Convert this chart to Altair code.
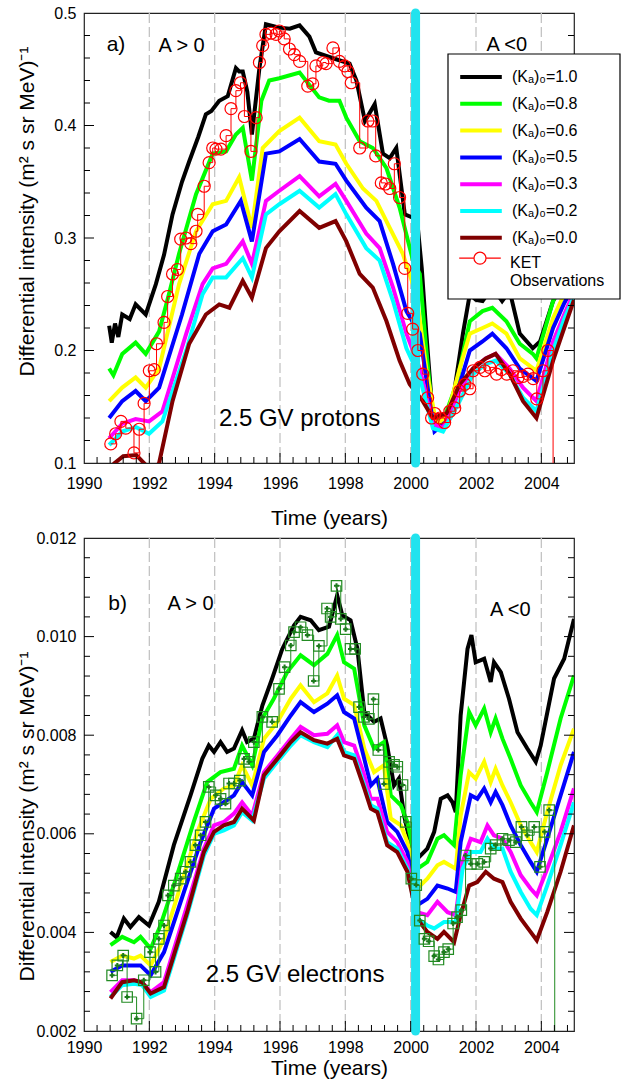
import altair as alt
import pandas as pd

FONT = "Liberation Sans"

# ---------------- labels / colours ----------------
MODEL_LABELS = ["(Kₐ)₀=1.0", "(Kₐ)₀=0.8", "(Kₐ)₀=0.6", "(Kₐ)₀=0.5",
                "(Kₐ)₀=0.3", "(Kₐ)₀=0.2", "(Kₐ)₀=0.0"]
MODEL_COLORS = ["#000000", "#00ff00", "#ffff00", "#0000ff",
                "#ff00ff", "#00ffff", "#800000"]
KET_LABEL = "KET|Observations"
Y_TITLE = "Differential intensity (m² s sr MeV)⁻¹"
X_TITLE = "Time (years)"
X_MAJOR = [1990, 1992, 1994, 1996, 1998, 2000, 2002, 2004]
X_GRID = [1992, 1994, 1996, 1998, 2000, 2002, 2004]
Y_MAJOR_P = [0.1, 0.2, 0.3, 0.4, 0.5]
Y_MAJOR_E = [0.002, 0.004, 0.006, 0.008, 0.010, 0.012]
POLARITY_CHANGE = [2000.15]

# ---------------- panel a) protons ----------------
P_Y10 = [1990.77, 1990.85, 1990.95, 1991.05, 1991.17, 1991.4, 1991.58, 1991.89, 1992.2, 1992.45,
         1992.71, 1993.0, 1993.22, 1993.5, 1993.73, 1993.9, 1994.14, 1994.4, 1994.65, 1994.75,
         1994.86, 1995.0, 1995.14, 1995.25, 1995.37, 1995.57, 1995.98, 1996.3, 1996.6, 1996.9,
         1997.1, 1997.6, 1998.13, 1998.34, 1998.6, 1998.9, 1999.15, 1999.36, 1999.56, 1999.82,
         2000.07, 2000.22, 2000.34, 2000.48, 2000.68, 2000.99, 2001.29, 2001.6, 2001.81, 2002.0,
         2002.2, 2002.5, 2002.8, 2003.03, 2003.34, 2003.74, 2003.96, 2004.36, 2004.7, 2005.0]
P_V10 = [0.222, 0.207, 0.224, 0.212, 0.232, 0.228, 0.241, 0.232, 0.259, 0.285,
         0.321, 0.35, 0.368, 0.39, 0.41, 0.413, 0.422, 0.426, 0.451, 0.448,
         0.448, 0.43, 0.392, 0.42, 0.451, 0.490, 0.487, 0.486, 0.489, 0.479,
         0.465, 0.46, 0.455, 0.44, 0.404, 0.419, 0.375, 0.371, 0.38, 0.321,
         0.318, 0.309, 0.273, 0.215, 0.14, 0.135, 0.155, 0.215, 0.25, 0.245,
         0.244, 0.256, 0.244, 0.253, 0.215, 0.202, 0.208, 0.244, 0.262, 0.28]

P_Y08 = [1990.77, 1990.9, 1991.17, 1991.58, 1991.89, 1992.3, 1992.6, 1992.91, 1993.43, 1993.94,
         1994.35, 1994.65, 1994.86, 1995.14, 1995.43, 1995.67, 1995.98, 1996.6, 1997.2, 1997.5,
         1997.82, 1998.03, 1998.44, 1998.84, 1999.26, 1999.66, 2000.07, 2000.28, 2000.48, 2000.68,
         2000.99, 2001.4, 2001.81, 2002.2, 2002.5, 2002.93, 2003.34, 2003.74, 2003.85, 2004.36,
         2004.7, 2005.0]
P_V08 = [0.184, 0.178, 0.197, 0.207, 0.197, 0.217, 0.25, 0.286, 0.339, 0.375,
         0.377, 0.392, 0.398, 0.351, 0.422, 0.44, 0.442, 0.447, 0.425, 0.422,
         0.422, 0.407, 0.386, 0.380, 0.362, 0.327, 0.28, 0.268, 0.20, 0.14,
         0.137, 0.17, 0.226, 0.235, 0.238, 0.226, 0.206, 0.197, 0.193, 0.244,
         0.262, 0.272]

P_Y06 = [1990.77, 1991.17, 1991.58, 1991.89, 1992.3, 1992.91, 1993.43, 1993.94, 1994.35, 1994.75,
         1995.14, 1995.47, 1995.98, 1996.6, 1997.2, 1997.7, 1998.03, 1998.54, 1998.95, 1999.36,
         1999.76, 2000.17, 2000.48, 2000.78, 2001.1, 2001.5, 2001.81, 2002.2, 2002.5, 2002.93,
         2003.34, 2003.85, 2004.36, 2004.7, 2005.0]
P_V06 = [0.155, 0.167, 0.176, 0.167, 0.184, 0.259, 0.306, 0.33, 0.333, 0.354,
         0.309, 0.38, 0.395, 0.407, 0.386, 0.383, 0.366, 0.344, 0.333, 0.309,
         0.286, 0.25, 0.184, 0.135, 0.14, 0.184, 0.215, 0.22, 0.224, 0.215,
         0.193, 0.182, 0.229, 0.25, 0.265]

P_Y05 = [1990.77, 1991.17, 1991.58, 1991.89, 1992.3, 1993.0, 1993.53, 1993.94, 1994.35, 1994.8,
         1995.14, 1995.57, 1995.98, 1996.6, 1997.2, 1997.7, 1998.03, 1998.64, 1999.05, 1999.46,
         1999.87, 2000.28, 2000.58, 2000.73, 2001.1, 2001.5, 2001.81, 2002.2, 2002.5, 2002.93,
         2003.34, 2003.85, 2004.36, 2004.7, 2005.0]
P_V05 = [0.14, 0.155, 0.164, 0.155, 0.167, 0.232, 0.286, 0.306, 0.312, 0.333,
         0.297, 0.375, 0.377, 0.388, 0.368, 0.366, 0.351, 0.327, 0.315, 0.277,
         0.235, 0.215, 0.155, 0.128, 0.137, 0.17, 0.20, 0.208, 0.215, 0.202,
         0.184, 0.173, 0.22, 0.242, 0.258]

P_Y03 = [1990.77, 1991.17, 1991.58, 1991.99, 1992.4, 1993.13, 1993.63, 1993.94, 1994.35, 1994.86,
         1995.14, 1995.57, 1995.98, 1996.6, 1997.2, 1997.7, 1998.03, 1998.64, 1999.05, 1999.46,
         1999.87, 2000.28, 2000.68, 2000.99, 2001.5, 2001.91, 2002.3, 2002.6, 2003.03, 2003.44,
         2003.85, 2004.36, 2004.7, 2005.0]
P_V03 = [0.122, 0.135, 0.139, 0.137, 0.146, 0.215, 0.259, 0.273, 0.277, 0.297,
         0.277, 0.333, 0.342, 0.355, 0.337, 0.348, 0.333, 0.304, 0.291, 0.256,
         0.215, 0.184, 0.135, 0.131, 0.164, 0.184, 0.193, 0.197, 0.184, 0.167,
         0.155, 0.208, 0.232, 0.252]

P_Y02 = P_Y03
P_V02 = [0.116, 0.128, 0.132, 0.126, 0.137, 0.20, 0.25, 0.265, 0.265, 0.282,
         0.265, 0.321, 0.33, 0.342, 0.327, 0.339, 0.321, 0.291, 0.28, 0.244,
         0.202, 0.176, 0.131, 0.128, 0.155, 0.179, 0.188, 0.191, 0.179, 0.158,
         0.146, 0.20, 0.228, 0.248]

P_Y00 = [1990.9, 1991.2, 1991.6, 1991.9, 1992.1, 1992.3, 1992.71, 1993.22, 1993.73, 1994.14,
         1994.45, 1994.86, 1995.14, 1995.57, 1995.98, 1996.6, 1997.2, 1997.7, 1998.03, 1998.44,
         1998.84, 1999.26, 1999.66, 1999.97, 2000.37, 2000.68, 2001.1, 2001.5, 2001.91, 2002.3,
         2002.6, 2003.03, 2003.44, 2003.85, 2004.36, 2004.7, 2005.0]
P_V00 = [0.099, 0.106, 0.107, 0.098, 0.092, 0.1, 0.155, 0.206, 0.232, 0.241,
         0.238, 0.262, 0.247, 0.291, 0.306, 0.324, 0.309, 0.315, 0.297, 0.268,
         0.256, 0.226, 0.191, 0.17, 0.155, 0.14, 0.144, 0.17, 0.184, 0.193,
         0.197, 0.179, 0.155, 0.14, 0.191, 0.22, 0.245]

KET_P_YEARS = [1990.82, 1990.97, 1991.13, 1991.28, 1991.53, 1991.69, 1991.84, 1992.0, 1992.15, 1992.22,
               1992.45, 1992.56, 1992.71, 1992.86, 1992.96, 1993.12, 1993.27, 1993.43, 1993.48, 1993.68,
               1993.83, 1993.94, 1994.04, 1994.19, 1994.35, 1994.5, 1994.65, 1994.79, 1994.91, 1995.11,
               1995.27, 1995.37, 1995.47, 1995.57, 1995.73, 1995.88, 1995.98, 1996.13, 1996.29, 1996.44,
               1996.6, 1996.85, 1997.0, 1997.1, 1997.31, 1997.41, 1997.62, 1997.82, 1997.98, 1998.08,
               1998.18, 1998.44, 1998.69, 1998.84, 1998.93, 1999.1, 1999.23, 1999.36, 1999.5, 1999.66,
               1999.82, 1999.91, 2000.06, 2000.22, 2000.37, 2000.52, 2000.64, 2000.74, 2000.9, 2001.04,
               2001.2, 2001.35, 2001.5, 2001.66, 2001.81, 2001.91, 2002.12, 2002.27, 2002.42, 2002.63,
               2002.78, 2002.94, 2003.13, 2003.29, 2003.44, 2003.59, 2003.75, 2003.86, 2004.05, 2004.2,
               2004.36]
KET_P_VALUES = [0.117, 0.126, 0.137, 0.131, 0.109, 0.13, 0.153, 0.182, 0.183, 0.206,
                0.225, 0.248, 0.268, 0.272, 0.299, 0.30, 0.295, 0.306, 0.321, 0.346,
                0.367, 0.38, 0.379, 0.379, 0.391, 0.415, 0.431, 0.438, 0.408, 0.377,
                0.407, 0.456, 0.471, 0.481, 0.482, 0.481, 0.484, 0.477, 0.468, 0.463,
                0.457, 0.435, 0.437, 0.453, 0.456, 0.455, 0.469, 0.457, 0.453, 0.448,
                0.438, 0.38, 0.404, 0.404, 0.373, 0.349, 0.348, 0.344, 0.366, 0.336,
                0.273, 0.233, 0.219, 0.20, 0.179, 0.158, 0.14, 0.144, 0.14, 0.136,
                0.146, 0.149, 0.164, 0.17, 0.166, 0.182, 0.185, 0.182, 0.185, 0.179,
                0.183, 0.179, 0.182, 0.176, 0.177, 0.179, 0.175, 0.157, 0.182, 0.20,
                0.0]

# ---------------- panel b) electrons ----------------
E_Y10 = [1990.81, 1991.0, 1991.22, 1991.42, 1991.68, 1991.99, 1992.29, 1992.75, 1993.26, 1993.62,
         1993.82, 1993.98, 1994.18, 1994.38, 1994.59, 1994.84, 1994.99, 1995.2, 1995.46, 1995.76,
         1996.07, 1996.43, 1996.63, 1996.94, 1997.19, 1997.5, 1997.75, 1997.91, 1998.16, 1998.37,
         1998.58, 1998.88, 1999.08, 1999.28, 1999.49, 1999.64, 1999.8, 2000.0, 2000.26, 2000.51,
         2000.72, 2000.92, 2001.13, 2001.28, 2001.38, 2001.53, 2001.74, 2001.86, 2001.99, 2002.25,
         2002.45, 2002.55, 2002.76, 2003.01, 2003.27, 2003.57, 2003.83, 2003.98, 2004.39, 2004.7,
         2005.0]
E_V10 = [0.00401, 0.0039, 0.00428, 0.00411, 0.00431, 0.00414, 0.00462, 0.00577, 0.00678, 0.00752,
         0.00779, 0.00766, 0.00786, 0.00766, 0.00773, 0.0081, 0.00786, 0.00793, 0.0086, 0.00915,
         0.00975, 0.01023, 0.0104, 0.01033, 0.01013, 0.0102, 0.01084, 0.01043, 0.01033, 0.00975,
         0.00847, 0.00827, 0.00834, 0.00779, 0.00698, 0.00712, 0.00637, 0.00577, 0.00553, 0.0057,
         0.00604, 0.00671, 0.00678, 0.00664, 0.00644, 0.0084, 0.00975, 0.01003, 0.00948, 0.00955,
         0.00908, 0.00948, 0.00928, 0.00874, 0.00806, 0.00773, 0.00746, 0.00779, 0.00915, 0.00955,
         0.01036]

E_Y08 = [1990.81, 1991.17, 1991.53, 1991.73, 1992.04, 1992.34, 1992.85, 1993.36, 1993.77, 1994.18,
         1994.59, 1994.84, 1995.15, 1995.46, 1995.81, 1996.22, 1996.63, 1997.04, 1997.45, 1997.75,
         1997.96, 1998.27, 1998.58, 1998.88, 1999.18, 1999.39, 1999.7, 1999.9, 2000.2, 2000.51,
         2000.82, 2001.02, 2001.33, 2001.53, 2001.79, 2001.99, 2002.25, 2002.45, 2002.6, 2002.81,
         2003.06, 2003.37, 2003.67, 2003.86, 2004.18, 2004.59, 2005.0]
E_V08 = [0.00374, 0.00391, 0.0038, 0.00391, 0.00367, 0.00414, 0.00516, 0.00624, 0.00705, 0.00725,
         0.00732, 0.00779, 0.00739, 0.00834, 0.00874, 0.00928, 0.00962, 0.00942, 0.00965, 0.01003,
         0.00948, 0.00935, 0.0082, 0.00773, 0.00786, 0.00678, 0.00658, 0.00624, 0.00529, 0.00543,
         0.0059, 0.00597, 0.00577, 0.00719, 0.00847, 0.0082, 0.00854, 0.00806, 0.00834, 0.00793,
         0.00752, 0.00698, 0.00664, 0.00644, 0.00725, 0.00834, 0.00921]

E_Y06 = [1990.81, 1991.17, 1991.53, 1991.73, 1992.04, 1992.45, 1992.96, 1993.47, 1993.88, 1994.28,
         1994.59, 1994.84, 1995.15, 1995.51, 1995.92, 1996.33, 1996.63, 1997.04, 1997.45, 1997.75,
         1997.96, 1998.27, 1998.58, 1998.88, 1999.18, 1999.39, 1999.7, 1999.9, 2000.2, 2000.51,
         2000.82, 2001.02, 2001.38, 2001.53, 2001.79, 2001.99, 2002.25, 2002.45, 2002.6, 2002.81,
         2003.06, 2003.37, 2003.67, 2003.86, 2004.18, 2004.59, 2005.0]
E_V06 = [0.0034, 0.00353, 0.00347, 0.00353, 0.00333, 0.00387, 0.00495, 0.00604, 0.00671, 0.00692,
         0.00698, 0.00739, 0.00698, 0.00793, 0.00827, 0.00874, 0.00901, 0.00867, 0.00885, 0.00921,
         0.00874, 0.00861, 0.00773, 0.00725, 0.00739, 0.00631, 0.00617, 0.00583, 0.00489, 0.00509,
         0.00536, 0.00543, 0.00529, 0.00637, 0.00725, 0.00712, 0.00746, 0.00705, 0.00732, 0.00698,
         0.00664, 0.00617, 0.00583, 0.00563, 0.00644, 0.00739, 0.00813]

E_Y05 = [1990.81, 1991.17, 1991.53, 1991.73, 1992.04, 1992.45, 1993.06, 1993.57, 1993.98, 1994.28,
         1994.59, 1994.84, 1995.15, 1995.51, 1995.92, 1996.33, 1996.63, 1997.04, 1997.45, 1997.75,
         1997.96, 1998.27, 1998.58, 1998.78, 1998.98, 1999.28, 1999.59, 1999.9, 2000.2, 2000.51,
         2000.82, 2001.13, 2001.38, 2001.53, 2001.84, 2002.04, 2002.25, 2002.45, 2002.6, 2002.81,
         2003.06, 2003.37, 2003.67, 2003.86, 2004.18, 2004.59, 2005.0]
E_V05 = [0.0032, 0.00333, 0.00333, 0.00333, 0.00313, 0.0036, 0.00482, 0.00583, 0.00651, 0.00664,
         0.00678, 0.00705, 0.00678, 0.00766, 0.008, 0.0084, 0.00867, 0.00847, 0.00864, 0.00881,
         0.00847, 0.00834, 0.00752, 0.00698, 0.00712, 0.00624, 0.00604, 0.00563, 0.00455, 0.00468,
         0.00495, 0.00489, 0.00482, 0.00583, 0.00678, 0.00671, 0.00692, 0.00664, 0.00685, 0.00658,
         0.00617, 0.00577, 0.00543, 0.00523, 0.0059, 0.00678, 0.00766]

E_Y03 = [1990.81, 1991.17, 1991.53, 1991.78, 1992.04, 1992.45, 1993.16, 1993.67, 1993.98, 1994.28,
         1994.59, 1994.84, 1995.15, 1995.51, 1995.92, 1996.33, 1996.63, 1997.04, 1997.45, 1997.75,
         1997.96, 1998.27, 1998.58, 1998.78, 1998.98, 1999.28, 1999.59, 1999.9, 2000.2, 2000.51,
         2000.82, 2001.13, 2001.38, 2001.59, 2001.84, 2002.14, 2002.35, 2002.55, 2002.81, 2003.06,
         2003.37, 2003.67, 2003.86, 2004.18, 2004.59, 2005.0]
E_V03 = [0.00279, 0.00303, 0.00303, 0.00299, 0.00279, 0.00299, 0.00455, 0.0057, 0.00617, 0.00624,
         0.00641, 0.00664, 0.00637, 0.00725, 0.00759, 0.00793, 0.00817, 0.008, 0.00803, 0.0082,
         0.00786, 0.00779, 0.00719, 0.00671, 0.00671, 0.00604, 0.00583, 0.00543, 0.00441, 0.00435,
         0.00462, 0.00441, 0.00435, 0.00543, 0.0059, 0.00583, 0.00617, 0.00597, 0.0059, 0.00563,
         0.00516, 0.00489, 0.00475, 0.00529, 0.00604, 0.00692]

E_Y02 = [1990.81, 1991.17, 1991.53, 1991.78, 1992.04, 1992.45, 1993.16, 1993.67, 1993.98, 1994.28,
         1994.59, 1994.84, 1995.15, 1995.51, 1995.92, 1996.33, 1996.63, 1997.04, 1997.45, 1997.75,
         1997.96, 1998.27, 1998.58, 1998.78, 1998.98, 1999.28, 1999.59, 1999.9, 2000.2, 2000.51,
         2000.72, 2001.02, 2001.38, 2001.59, 2001.84, 2002.14, 2002.35, 2002.55, 2002.81, 2003.06,
         2003.37, 2003.67, 2003.86, 2004.18, 2004.59, 2005.0]
E_V02 = [0.00269, 0.00293, 0.00296, 0.00293, 0.00269, 0.00282, 0.00435, 0.00556, 0.006, 0.00607,
         0.00617, 0.00644, 0.00627, 0.00712, 0.00746, 0.00779, 0.008, 0.00786, 0.00776, 0.008,
         0.00766, 0.00759, 0.00698, 0.00658, 0.00651, 0.00583, 0.0057, 0.00529, 0.00428, 0.00414,
         0.00408, 0.00421, 0.00421, 0.00529, 0.00563, 0.00563, 0.0059, 0.0057, 0.0057, 0.00523,
         0.00482, 0.00448, 0.00435, 0.00495, 0.00577, 0.00664]

E_Y00 = [1990.81, 1991.17, 1991.53, 1991.78, 1992.04, 1992.45, 1993.16, 1993.67, 1993.98, 1994.28,
         1994.59, 1994.84, 1995.2, 1995.51, 1995.92, 1996.33, 1996.63, 1997.04, 1997.45, 1997.75,
         1997.96, 1998.27, 1998.58, 1998.78, 1998.98, 1999.28, 1999.59, 1999.9, 2000.2, 2000.51,
         2000.82, 2001.02, 2001.33, 2001.53, 2001.79, 2002.04, 2002.3, 2002.55, 2002.81, 2003.06,
         2003.37, 2003.67, 2003.86, 2004.18, 2004.59, 2005.0]
E_V00 = [0.00266, 0.00299, 0.00303, 0.00299, 0.00276, 0.00289, 0.00441, 0.00563, 0.00604, 0.00617,
         0.00624, 0.00651, 0.00627, 0.00719, 0.00752, 0.00786, 0.00806, 0.0079, 0.00783, 0.00793,
         0.00759, 0.00752, 0.00692, 0.00651, 0.00644, 0.00577, 0.00563, 0.00523, 0.00428, 0.00401,
         0.00387, 0.00401, 0.0038, 0.00435, 0.00495, 0.00502, 0.00523, 0.00509, 0.00502, 0.00462,
         0.00428, 0.00401, 0.00384, 0.00441, 0.00523, 0.00617]

KET_E_YEARS = [1990.86, 1991.02, 1991.2, 1991.32, 1991.61, 1991.83, 1992.02, 1992.19, 1992.29, 1992.45,
               1992.57, 1992.75, 1992.96, 1993.11, 1993.26, 1993.41, 1993.57, 1993.72, 1993.82, 1994.03,
               1994.18, 1994.33, 1994.44, 1994.59, 1994.77, 1994.9, 1995.05, 1995.2, 1995.46, 1995.76,
               1995.97, 1996.14, 1996.33, 1996.43, 1996.63, 1996.84, 1997.03, 1997.19, 1997.44, 1997.55,
               1997.73, 1997.86, 1998.01, 1998.16, 1998.3, 1998.42, 1998.57, 1998.72, 1998.86, 1999.01,
               1999.18, 1999.34, 1999.49, 1999.59, 1999.75, 1999.85, 2000.02, 2000.17, 2000.28, 2000.42,
               2000.55, 2000.72, 2000.85, 2001.02, 2001.15, 2001.3, 2001.42, 2001.55, 2001.68, 2001.84,
               2002.04, 2002.25, 2002.45, 2002.6, 2002.81, 2003.01, 2003.22, 2003.39, 2003.57, 2003.78,
               2003.96, 2004.1, 2004.24, 2004.41]
KET_E_VALUES = [0.00313, 0.00333, 0.00353, 0.00269, 0.00225, 0.00303, 0.0036, 0.0032, 0.00387, 0.00414,
                0.00475, 0.00495, 0.00509, 0.00523, 0.00543, 0.00577, 0.00597, 0.00624, 0.00695, 0.00678,
                0.00671, 0.00661, 0.00702, 0.00702, 0.00708, 0.00752, 0.00746, 0.00786, 0.00837, 0.00827,
                0.00894, 0.00938, 0.00982, 0.01009, 0.01019, 0.01003, 0.0091, 0.00981, 0.01057, 0.0104,
                0.01103, 0.01036, 0.01015, 0.00975, 0.00975, 0.00857, 0.00837, 0.00833, 0.00873, 0.0077,
                0.00701, 0.00746, 0.0074, 0.00736, 0.00699, 0.00624, 0.00509, 0.00496, 0.00424, 0.00387,
                0.00382, 0.00352, 0.00345, 0.0036, 0.00366, 0.00418, 0.00431, 0.00445, 0.00556, 0.00539,
                0.00539, 0.00543, 0.0057, 0.00577, 0.0059, 0.00587, 0.00583, 0.00614, 0.00597, 0.00614,
                0.00533, 0.00604, 0.00648, 0.0]

# ---------------- annotations ----------------
P_TEXT = ["a)", "A > 0", "A <0", "2.5 GV protons"]
P_TEXT_X = [1990.98, 1992.99, 2002.94, 1996.6]
P_TEXT_Y = [0.472, 0.471, 0.472, 0.139]
P_TEXT_FS = [21, 20, 20, 24]
E_TEXT = ["b)", "A > 0", "A <0", "2.5 GV electrons"]
E_TEXT_X = [1991.03, 1993.26, 2003.05, 1996.46]
E_TEXT_Y = [0.01066, 0.01066, 0.01054, 0.00314]
E_TEXT_FS = [21, 20, 20, 24]

# ---------------- layout constants ----------------
W = 490
H_TOP = 450
H_BOT = 493
TICK_MAJ = 10
TICK_MIN = 6
LINE_PATH = "M-2.6,0L2.6,0"
KET_PATH = ("M-2.6,-0.6L-0.75,-0.6M0.75,-0.6L2.6,-0.6M0.75,-0.6"
            "A0.75,0.75,0,1,1,-0.75,-0.6A0.75,0.75,0,1,1,0.75,-0.6")

X_MINOR = [round(1990 + 0.4 * i, 1) for i in range(1, 38) if i % 5 != 0]
X_MAJOR_T = [1992, 1994, 1996, 1998, 2000, 2002, 2004]
Y_MINOR_P = [round(0.1 + 0.02 * i, 2) for i in range(1, 20) if i % 5 != 0]
Y_MAJOR_P_T = [0.2, 0.3, 0.4]
Y_MINOR_E = [round(0.002 + 0.0004 * i, 4) for i in range(1, 25) if i % 5 != 0]
Y_MAJOR_E_T = [0.004, 0.006, 0.008, 0.010]


def models_df(years_list, vals_list):
    rows = []
    for lab, ys, vs in zip(MODEL_LABELS, years_list, vals_list):
        rows += [{"year": y, "value": v, "model": lab} for y, v in zip(ys, vs)]
    return pd.DataFrame(rows)


def panel(mdf, obs_years, obs_vals, y_domain, y_major, y_fmt, y_minor, y_major_t,
          height, texts, tx, ty, tfs, title_y, xlab_pad, xtitle_pad, is_top):
    xscale = alt.Scale(domain=[1990, 2005], nice=False, zero=False)
    yscale = alt.Scale(domain=y_domain, nice=False, zero=False)
    xaxis = alt.Axis(values=X_MAJOR, format="d", ticks=False, domain=False, grid=False,
                     labelFlush=False, labelOverlap=False, labelFontSize=16, labelFont=FONT,
                     labelColor="black", labelPadding=xlab_pad, title=X_TITLE,
                     titleFontSize=21, titleFont=FONT, titleFontWeight="normal",
                     titleColor="black", titlePadding=xtitle_pad)
    yaxis = alt.Axis(values=y_major, format=y_fmt, ticks=False, domain=False, grid=False,
                     labelOverlap=False, labelFlush=False, labelFontSize=16, labelFont=FONT,
                     labelColor="black", labelPadding=8, title=Y_TITLE, titleFontSize=21,
                     titleFont=FONT, titleFontWeight="normal", titleColor="black",
                     titleX=-47, titleY=title_y)
    X = alt.X("year:Q", scale=xscale, axis=xaxis)
    Y = alt.Y("value:Q", scale=yscale, axis=yaxis)

    grid = alt.Chart(pd.DataFrame({"year": X_GRID})).mark_rule(
        color="#c4c4c4", strokeWidth=1.3, strokeDash=[10, 4]
    ).encode(x=X, y=alt.value(0), y2=alt.value(height))

    if is_top:
        mlegend = alt.Legend(title=None, orient="none", legendX=364, legendY=54,
                             symbolType=LINE_PATH, symbolSize=256, symbolStrokeWidth=4,
                             symbolOffset=23, labelOffset=21, labelFontSize=16,
                             labelFont=FONT, labelColor="black", rowPadding=8.8,
                             padding=0, labelLimit=300)
    else:
        mlegend = None
    models = alt.Chart(mdf).mark_line(strokeWidth=4, clip=True).encode(
        x=X, y=Y,
        color=alt.Color("model:N", scale=alt.Scale(domain=MODEL_LABELS, range=MODEL_COLORS),
                        legend=mlegend),
    )

    bar = alt.Chart(pd.DataFrame({"year": POLARITY_CHANGE})).mark_rule(
        color="#22e3ee", strokeWidth=9, strokeCap="round"
    ).encode(x=X, y=alt.value(0), y2=alt.value(height))

    odf = pd.DataFrame({"year": obs_years, "value": obs_vals,
                        "obs": [KET_LABEL] * len(obs_years)})
    ocolor = "#ff0000" if is_top else "#228b22"
    oline = alt.Chart(odf).mark_line(interpolate="step-after", color=ocolor,
                                     strokeWidth=1, clip=True).encode(x=X, y=Y)
    layers = [grid, models, bar, oline]
    if is_top:
        opts = alt.Chart(odf).mark_point(shape="circle", filled=False, size=144,
                                         strokeWidth=1.2, opacity=1, clip=True).encode(
            x=X, y=Y,
            color=alt.Color("obs:N", scale=alt.Scale(domain=[KET_LABEL], range=[ocolor]),
                            legend=alt.Legend(title=None, orient="none", legendX=364,
                                              legendY=241, symbolType=KET_PATH,
                                              symbolSize=256, symbolStrokeWidth=1.2,
                                              symbolOffset=23, labelOffset=21,
                                              labelFontSize=16, labelFont=FONT,
                                              labelColor="black", padding=0,
                                              labelLimit=300,
                                              labelExpr="split(datum.label, '|')")),
        )
        layers.append(opts)
    else:
        osq = alt.Chart(odf).mark_point(shape="square", filled=False, size=110,
                                        strokeWidth=1.2, opacity=1, color=ocolor,
                                        clip=True).encode(x=X, y=Y)
        ocr = alt.Chart(odf).mark_point(shape="cross", filled=True, size=26, opacity=1,
                                        color="#1c7a1c", clip=True).encode(x=X, y=Y)
        layers += [osq, ocr]

    tick_color = "black"
    xt_min = alt.Chart(pd.DataFrame({"year": X_MINOR})).mark_rule(color=tick_color).encode(
        x=X, y=alt.value(height), y2=alt.value(height - TICK_MIN))
    xt_maj = alt.Chart(pd.DataFrame({"year": X_MAJOR_T})).mark_rule(color=tick_color).encode(
        x=X, y=alt.value(height), y2=alt.value(height - TICK_MAJ))
    ymin_df = pd.DataFrame({"value": y_minor})
    ymaj_df = pd.DataFrame({"value": y_major_t})
    yl_min = alt.Chart(ymin_df).mark_rule(color=tick_color).encode(
        y=Y, x=alt.value(0), x2=alt.value(TICK_MIN))
    yl_maj = alt.Chart(ymaj_df).mark_rule(color=tick_color).encode(
        y=Y, x=alt.value(0), x2=alt.value(TICK_MAJ))
    yr_min = alt.Chart(ymin_df).mark_rule(color=tick_color).encode(
        y=Y, x=alt.value(W), x2=alt.value(W - TICK_MIN))
    yr_maj = alt.Chart(ymaj_df).mark_rule(color=tick_color).encode(
        y=Y, x=alt.value(W), x2=alt.value(W - TICK_MAJ))
    layers += [xt_min, xt_maj, yl_min, yl_maj, yr_min, yr_maj]

    tdf = pd.DataFrame({"year": tx, "value": ty, "text": texts, "fs": tfs})
    txt = alt.Chart(tdf).mark_text(font=FONT, color="black", align="center",
                                   baseline="middle").encode(
        x=X, y=Y, text="text:N", size=alt.Size("fs:Q", scale=None))
    layers.append(txt)

    if is_top:
        box = alt.Chart(pd.DataFrame({"k": [0]})).mark_rect(
            fill="white", stroke="black", strokeWidth=1.2
        ).encode(x=alt.value(364), x2=alt.value(536), y=alt.value(41), y2=alt.value(286))
        layers.append(box)

    ch = alt.layer(*layers).properties(width=W, height=height)
    if is_top:
        ch = ch.resolve_scale(color="independent")
    return ch


top = panel(models_df([P_Y10, P_Y08, P_Y06, P_Y05, P_Y03, P_Y02, P_Y00],
                      [P_V10, P_V08, P_V06, P_V05, P_V03, P_V02, P_V00]),
            KET_P_YEARS, KET_P_VALUES, [0.1, 0.5], Y_MAJOR_P, ".1f", Y_MINOR_P, Y_MAJOR_P_T,
            H_TOP, P_TEXT, P_TEXT_X, P_TEXT_Y, P_TEXT_FS, 198, 12, 16, True)
bottom = panel(models_df([E_Y10, E_Y08, E_Y06, E_Y05, E_Y03, E_Y02, E_Y00],
                         [E_V10, E_V08, E_V06, E_V05, E_V03, E_V02, E_V00]),
               KET_E_YEARS, KET_E_VALUES, [0.002, 0.012], Y_MAJOR_E, ".3f", Y_MINOR_E,
               Y_MAJOR_E_T, H_BOT, E_TEXT, E_TEXT_X, E_TEXT_Y, E_TEXT_FS, 278, 8, 2, False)

chart = alt.vconcat(top, bottom, spacing=0).properties(
    padding={"left": 15, "top": 4, "right": 0, "bottom": 4},
    background="white",
).configure_view(stroke="#222222", strokeWidth=1.2)

chart.save("out.html", embed_options={"renderer": "svg", "actions": False})
